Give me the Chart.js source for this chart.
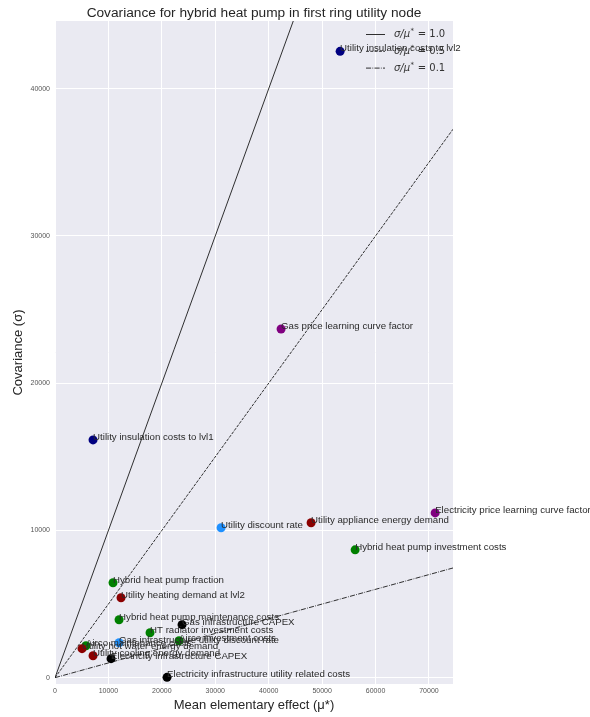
<!DOCTYPE html>
<html>
<head>
<meta charset="utf-8">
<script src="https://cdn.jsdelivr.net/npm/chart.js@4.4.1/dist/chart.umd.min.js"></script>
<style>
  html, body { margin: 0; padding: 0; background: #ffffff; }
  #wrap { width: 590px; height: 717px; }
</style>
</head>
<body>
<div id="wrap"><canvas id="c" width="590" height="717"></canvas></div>
<script>
// ---------- data ----------
const categories = [
  "Utility insulation costs to lvl2",
  "Gas price learning curve factor",
  "Utility insulation costs to lvl1",
  "Electricity price learning curve factor",
  "Utility appliance energy demand",
  "Utility discount rate",
  "Hybrid heat pump investment costs",
  "Hybrid heat pump fraction",
  "Utility heating demand at lvl2",
  "Hybrid heat pump maintenance costs",
  "Gas infrastructure CAPEX",
  "HT radiator investment costs",
  "Airco investment costs",
  "Gas infrastructure utility discount rate",
  "Airco maintenance costs",
  "Utility hot water energy demand",
  "Utility cooling energy demand",
  "Electricity infrastructure CAPEX",
  "Electricity infrastructure utility related costs"
];
const meanEffect = [
  53370, 42320, 7120, 71160, 47940, 31090, 56180, 10860, 12360, 11990,
  23780, 17790, 23220, 11990, 5800, 5060, 7120, 10490, 20970
];
const covariance = [
  42540, 23680, 16150, 11190, 10520, 10180, 8680, 6450, 5430, 3930,
  3600, 3050, 2510, 2370, 2170, 1970, 1490, 1290, 20
];
const pointColors = [
  "#000080", "#800080", "#000080", "#800080", "#8b0000", "#1e90ff", "#008000",
  "#008000", "#8b0000", "#008000", "#000000", "#008000", "#008000", "#1e90ff",
  "#008000", "#8b0000", "#8b0000", "#000000", "#000000"
];
const ratioValues = [1.0, 0.5, 0.1];
const ratioLabels = ["1.0", "0.5", "0.1"];
const xTicks = [0, 10000, 20000, 30000, 40000, 50000, 60000, 70000];
const yTicks = [0, 10000, 20000, 30000, 40000];
const xRange = [0, 74500];
const yRange = [-430, 44600];

// ---------- styles ----------
const dashStyles = [[], [3, 1.3], [5.1, 1.3, 0.8, 1.3]];
const textColor = "#262626";
const sansFont = "'Liberation Sans', Arial, sans-serif";

const scatterPoints = meanEffect.map((x, i) => ({ x: x, y: covariance[i] }));

const lineDatasets = ratioValues.map((r, i) => {
  const xEnd = Math.min(xRange[1], yRange[1] / r);
  return {
    type: "line",
    label: "σ/μ* = " + ratioLabels[i],
    data: [{ x: 0, y: 0 }, { x: xEnd, y: xEnd * r }],
    borderColor: "#1a1a1a",
    borderWidth: 0.9,
    borderDash: dashStyles[i],
    pointRadius: 0,
    fill: false,
    order: 2
  };
});

const bgPlugin = {
  id: "bg",
  beforeDraw(chart) {
    const { ctx, chartArea: a } = chart;
    ctx.save();
    ctx.fillStyle = "#eaeaf2";
    ctx.fillRect(a.left, a.top, a.right - a.left, a.bottom - a.top);
    ctx.restore();
  }
};

const labelPlugin = {
  id: "pointLabels",
  afterDatasetsDraw(chart) {
    const { ctx, scales } = chart;
    ctx.save();
    ctx.font = "9.7px " + sansFont;
    ctx.fillStyle = "#2b2b2b";
    ctx.textAlign = "left";
    ctx.textBaseline = "alphabetic";
    categories.forEach((name, i) => {
      const px = scales.x.getPixelForValue(meanEffect[i]);
      const py = scales.y.getPixelForValue(covariance[i]);
      ctx.fillText(name, px, py);
    });
    ctx.restore();
  }
};

const legendTitlePlugin = {
  id: "legendTitle",
  afterDraw(chart) {
    const { ctx, chartArea: a } = chart;
    ctx.save();
    // title
    ctx.font = "13.7px " + sansFont;
    ctx.fillStyle = textColor;
    ctx.textAlign = "center";
    ctx.textBaseline = "middle";
    ctx.fillText("Covariance for hybrid heat pump in first ring utility node", (a.left + a.right) / 2, 13);
    // legend
    const x0 = a.right - 87, yStart = a.top + 13.5, step = 16.8;
    ratioLabels.forEach((lab, i) => {
      const y = yStart + i * step;
      ctx.strokeStyle = "#1a1a1a";
      ctx.lineWidth = 0.9;
      ctx.setLineDash(dashStyles[i]);
      ctx.beginPath();
      ctx.moveTo(x0, y);
      ctx.lineTo(x0 + 19, y);
      ctx.stroke();
      ctx.setLineDash([]);
      let tx = x0 + 28;
      ctx.textAlign = "left";
      ctx.textBaseline = "middle";
      ctx.fillStyle = "#333333";
      ctx.font = "italic 10px 'DejaVu Sans', sans-serif";
      ctx.fillText("σ/μ", tx, y);
      tx += ctx.measureText("σ/μ").width;
      ctx.font = "7px 'DejaVu Sans', sans-serif";
      ctx.fillText("*", tx + 0.5, y - 3);
      tx += ctx.measureText("*").width + 1;
      ctx.font = "10px 'DejaVu Sans', sans-serif";
      ctx.fillText(" = " + lab, tx, y);
    });
    ctx.restore();
  }
};

new Chart(document.getElementById("c"), {
  type: "scatter",
  data: {
    datasets: [
      ...lineDatasets,
      {
        type: "scatter",
        label: "points",
        data: scatterPoints,
        backgroundColor: pointColors,
        borderWidth: 0,
        pointRadius: 4.5,
        pointHoverRadius: 4.5,
        order: 1
      }
    ]
  },
  options: {
    responsive: false,
    animation: false,
    events: [],
    layout: { padding: { top: 21, right: 137, left: 0, bottom: 0 } },
    plugins: {
      legend: { display: false },
      title: { display: false },
      tooltip: { enabled: false }
    },
    scales: {
      x: {
        type: "linear",
        min: xRange[0],
        max: xRange[1],
        afterBuildTicks(scale) { scale.ticks = xTicks.map(v => ({ value: v })); },
        afterFit(scale) { scale.height = 33; },
        border: { display: false },
        grid: { color: "#ffffff", lineWidth: 1, drawTicks: false },
        ticks: {
          padding: 3,
          maxRotation: 0,
          font: { size: 7, family: sansFont },
          color: "#555555",
          callback: v => String(v)
        },
        title: {
          display: true,
          text: "Mean elementary effect (μ*)",
          font: { size: 13, family: sansFont },
          color: textColor,
          padding: { top: 0, bottom: 4 }
        }
      },
      y: {
        type: "linear",
        min: yRange[0],
        max: yRange[1],
        afterBuildTicks(scale) { scale.ticks = yTicks.map(v => ({ value: v })); },
        afterFit(scale) { scale.width = 55; },
        border: { display: false },
        grid: { color: "#ffffff", lineWidth: 1, drawTicks: false },
        ticks: {
          padding: 5,
          font: { size: 7, family: sansFont },
          color: "#555555",
          callback: v => String(v)
        },
        title: {
          display: true,
          text: "Covariance (σ)",
          font: { size: 13, family: sansFont },
          color: textColor,
          padding: { top: 11, bottom: 0 }
        }
      }
    }
  },
  plugins: [bgPlugin, labelPlugin, legendTitlePlugin]
});
</script>
</body>
</html>
